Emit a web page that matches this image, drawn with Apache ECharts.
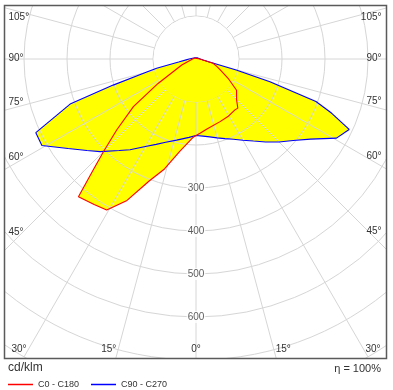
<!DOCTYPE html>
<html><head><meta charset="utf-8">
<script src="https://cdn.jsdelivr.net/npm/echarts@6/dist/echarts.min.js"></script>
<style>html,body{margin:0;padding:0;background:#fff}#c{width:393px;height:390px}</style>
</head><body><div id="c"></div>
<script>
// ---- Data: gamma (deg from nadir) and luminous intensity (cd/klm) ----
// C0 - C180 (red): right half C0, left half C180
const gammaC0   = [0, 3.1, 8.5, 21, 29, 37.4, 40.4, 44.8, 52.4, 59, 65, 70, 76, 80, 90, 135, 180];
const intensC0  = [178, 173, 165, 156, 153, 149, 150, 134, 119, 87, 64, 52, 41, 18, 9, 3, 3];
const gammaC180  = [0, 2, 10, 16, 21, 26, 30.6, 35, 40.5, 42.8, 45, 48.2, 52.7, 57.2, 67.2, 90, 135, 180];
const intensC180 = [178, 182, 218, 266, 304, 366, 408, 413, 421, 352, 304, 247, 183, 105, 36, 8, 3, 3];
// C90 - C270 (blue): right half C90, left half C270
const gammaC90   = [0, 5.2, 10, 15, 20, 25, 30, 35, 40, 45, 50, 55, 60.6, 65.3, 68.2, 70.5, 72.9, 74.7, 78, 82, 90, 135, 180];
const intensC90  = [178, 180, 184, 190, 197, 206, 218, 233, 252, 273, 295, 325, 375, 392, 340, 296, 180, 97, 30, 17, 10, 4, 3];
const gammaC270  = [0, 5, 13.4, 20, 25, 30, 36, 40, 46, 50, 55, 60.7, 65.3, 70.3, 72.5, 75, 76.7, 80, 85, 90, 135, 180];
const intensC270 = [178, 183, 194, 206, 219, 235, 261, 278, 310, 331, 363, 411, 410, 311, 202, 120, 94, 41, 23, 16, 4, 3];

const radialTicks = [300, 400, 500, 600];
const sideAngleTicks = [45, 60, 75, 90, 105];
const bottomAngleTicks = [0, 15, 30];
const seriesNames = ['C0 - C180', 'C90 - C270'];
const unitLabel = 'cd/klm';
const effLabel = 'η = 100%';

// ---- Layout ----
const W = 393, H = 390;
const CX = 196, CY = 59, PX_PER_UNIT = 0.43;
const RMAX = 800, RMIN_GRID = 100;
const BOX = {l: 4.5, t: 5.5, r: 386.5, b: 358.5};
const FONT = '"Liberation Sans", Arial, sans-serif';
const GRID = '#d6d6d6';
const TXT = '#333';

function loop(gL, iL, gR, iR) {
  const pts = [];
  for (let k = 0; k < gL.length; k++) pts.push([iL[k], gL[k]]);
  for (let k = gR.length - 1; k >= 0; k--) pts.push([iR[k], 360 - gR[k]]);
  return pts;
}
const redData = loop(gammaC180, intensC180, gammaC0, intensC0);
const blueData = loop(gammaC270, intensC270, gammaC90, intensC90);

const chart = echarts.init(document.getElementById('c'), null, {renderer: 'canvas'});

function txt(text, x, y, align, size) {
  return {type: 'text', x: x, y: y, z: 102, silent: true,
    style: {text: text, fill: TXT, font: size + 'px ' + FONT,
      textAlign: align, align: align, textVerticalAlign: 'middle', verticalAlign: 'middle'}};
}

const innerR = RMIN_GRID * PX_PER_UNIT;
const graphics = [
  // blank the inside of the innermost ring (grid spokes start at the 100 ring)
  {type: 'circle', z: 4, silent: true, shape: {cx: CX, cy: CY, r: innerR - 0.6}, style: {fill: '#fff'}},
  {type: 'rect', z: 100, silent: true, shape: {x: 0, y: 0, width: W, height: BOX.t}, style: {fill: '#fff'}},
  {type: 'rect', z: 100, silent: true, shape: {x: 0, y: 0, width: BOX.l, height: H}, style: {fill: '#fff'}},
  {type: 'rect', z: 100, silent: true, shape: {x: BOX.r, y: 0, width: W - BOX.r, height: H}, style: {fill: '#fff'}},
  {type: 'rect', z: 100, silent: true, shape: {x: 0, y: BOX.b, width: W, height: H - BOX.b}, style: {fill: '#fff'}},
  {type: 'rect', z: 101, silent: true, shape: {x: BOX.l, y: BOX.t, width: BOX.r - BOX.l, height: BOX.b - BOX.t},
    style: {fill: 'none', stroke: '#5a5a5a', lineWidth: 1.5}}
];
const rad = Math.PI / 180;
sideAngleTicks.forEach(function (g) {
  const off = g < 90 ? -5 : (g === 90 ? -1 : 6);
  const dl = CX - (BOX.l + 13);
  const dr = (BOX.r - 13) - CX;
  const cot = Math.cos(g * rad) / Math.sin(g * rad);
  graphics.push(txt(g + '°', BOX.l + 4, CY + dl * cot + off, 'left', 10));
  graphics.push(txt(g + '°', BOX.r - 5, CY + dr * cot + off, 'right', 10));
});
bottomAngleTicks.forEach(function (g) {
  const yb = BOX.b - 9.5;
  const d = (yb - CY) * Math.tan(g * rad);
  if (g === 0) { graphics.push(txt(g + '°', CX, yb, 'center', 10)); return; }
  graphics.push(txt(g + '°', CX - d - 2, yb, 'right', 10));
  graphics.push(txt(g + '°', CX + d + 2, yb, 'left', 10));
});
graphics.push(txt(unitLabel, 8, 368, 'left', 12));
graphics.push(txt(effLabel, 381, 369, 'right', 11));

function fillSeries(data, polarIndex, z) {
  return {type: 'line', coordinateSystem: 'polar', polarIndex: polarIndex, data: data, symbol: 'none', clip: true,
    lineStyle: {width: 0, opacity: 0}, areaStyle: {color: '#ffff00', opacity: 1}, z: z, silent: true};
}

const option = {
  animation: false,
  backgroundColor: '#fff',
  polar: [
    {center: [CX, CY], radius: [innerR, RMAX * PX_PER_UNIT]},
    {center: [CX, CY], radius: [0, RMAX * PX_PER_UNIT]},
    {center: [CX, CY], radius: [0, innerR]}
  ],
  angleAxis: [
    {polarIndex: 0, type: 'value', min: 0, max: 360, interval: 15, startAngle: -90, clockwise: true, z: 3,
      axisLine: {show: false}, axisTick: {show: false}, axisLabel: {show: false},
      splitLine: {show: true, lineStyle: {color: GRID, width: 1}}},
    {polarIndex: 1, type: 'value', min: 0, max: 360, startAngle: -90, clockwise: true, show: false},
    {polarIndex: 2, type: 'value', min: 0, max: 360, startAngle: -90, clockwise: true, show: false}
  ],
  radiusAxis: [
    {polarIndex: 0, type: 'value', min: RMIN_GRID, max: RMAX, interval: 100, z: 3,
      axisLine: {show: false}, axisTick: {show: false}, axisLabel: {show: false},
      splitLine: {show: true, lineStyle: {color: GRID, width: 1}}},
    {polarIndex: 1, type: 'value', min: 0, max: RMAX, show: false},
    {polarIndex: 2, type: 'value', min: 0, max: RMIN_GRID, show: false}
  ],
  legend: {
    data: seriesNames, icon: 'rect', left: 8, top: 380, padding: 0, itemWidth: 25, itemHeight: 1.5, itemGap: 12, z: 200,
    textStyle: {fontSize: 9, color: TXT, fontFamily: FONT}
  },
  graphic: graphics,
  series: [
    fillSeries(redData, 1, 1),
    fillSeries(blueData, 1, 1),
    fillSeries(redData, 2, 5),
    fillSeries(blueData, 2, 5),
    {type: 'line', name: seriesNames[1], coordinateSystem: 'polar', polarIndex: 1, data: blueData, symbol: 'none',
      lineStyle: {color: '#0000ff', width: 1.1}, itemStyle: {color: '#0000ff'}, z: 6, silent: true},
    {type: 'line', name: seriesNames[0], coordinateSystem: 'polar', polarIndex: 1, data: redData, symbol: 'none',
      lineStyle: {color: '#ff0000', width: 1.1}, itemStyle: {color: '#ff0000'}, z: 7, silent: true},
    {type: 'scatter', name: 'ticks', coordinateSystem: 'polar', polarIndex: 1, symbolSize: 1,
      itemStyle: {color: 'rgba(0,0,0,0)'}, data: radialTicks.map(function (v) { return [v, 0]; }), z: 8, silent: true,
      label: {show: true, position: 'inside', formatter: function (p) { return String(p.value[0]); },
        backgroundColor: '#fff', padding: [1, 1], fontSize: 10, color: TXT, fontFamily: FONT}}
  ]
};
chart.setOption(option);
</script>
</body></html>
